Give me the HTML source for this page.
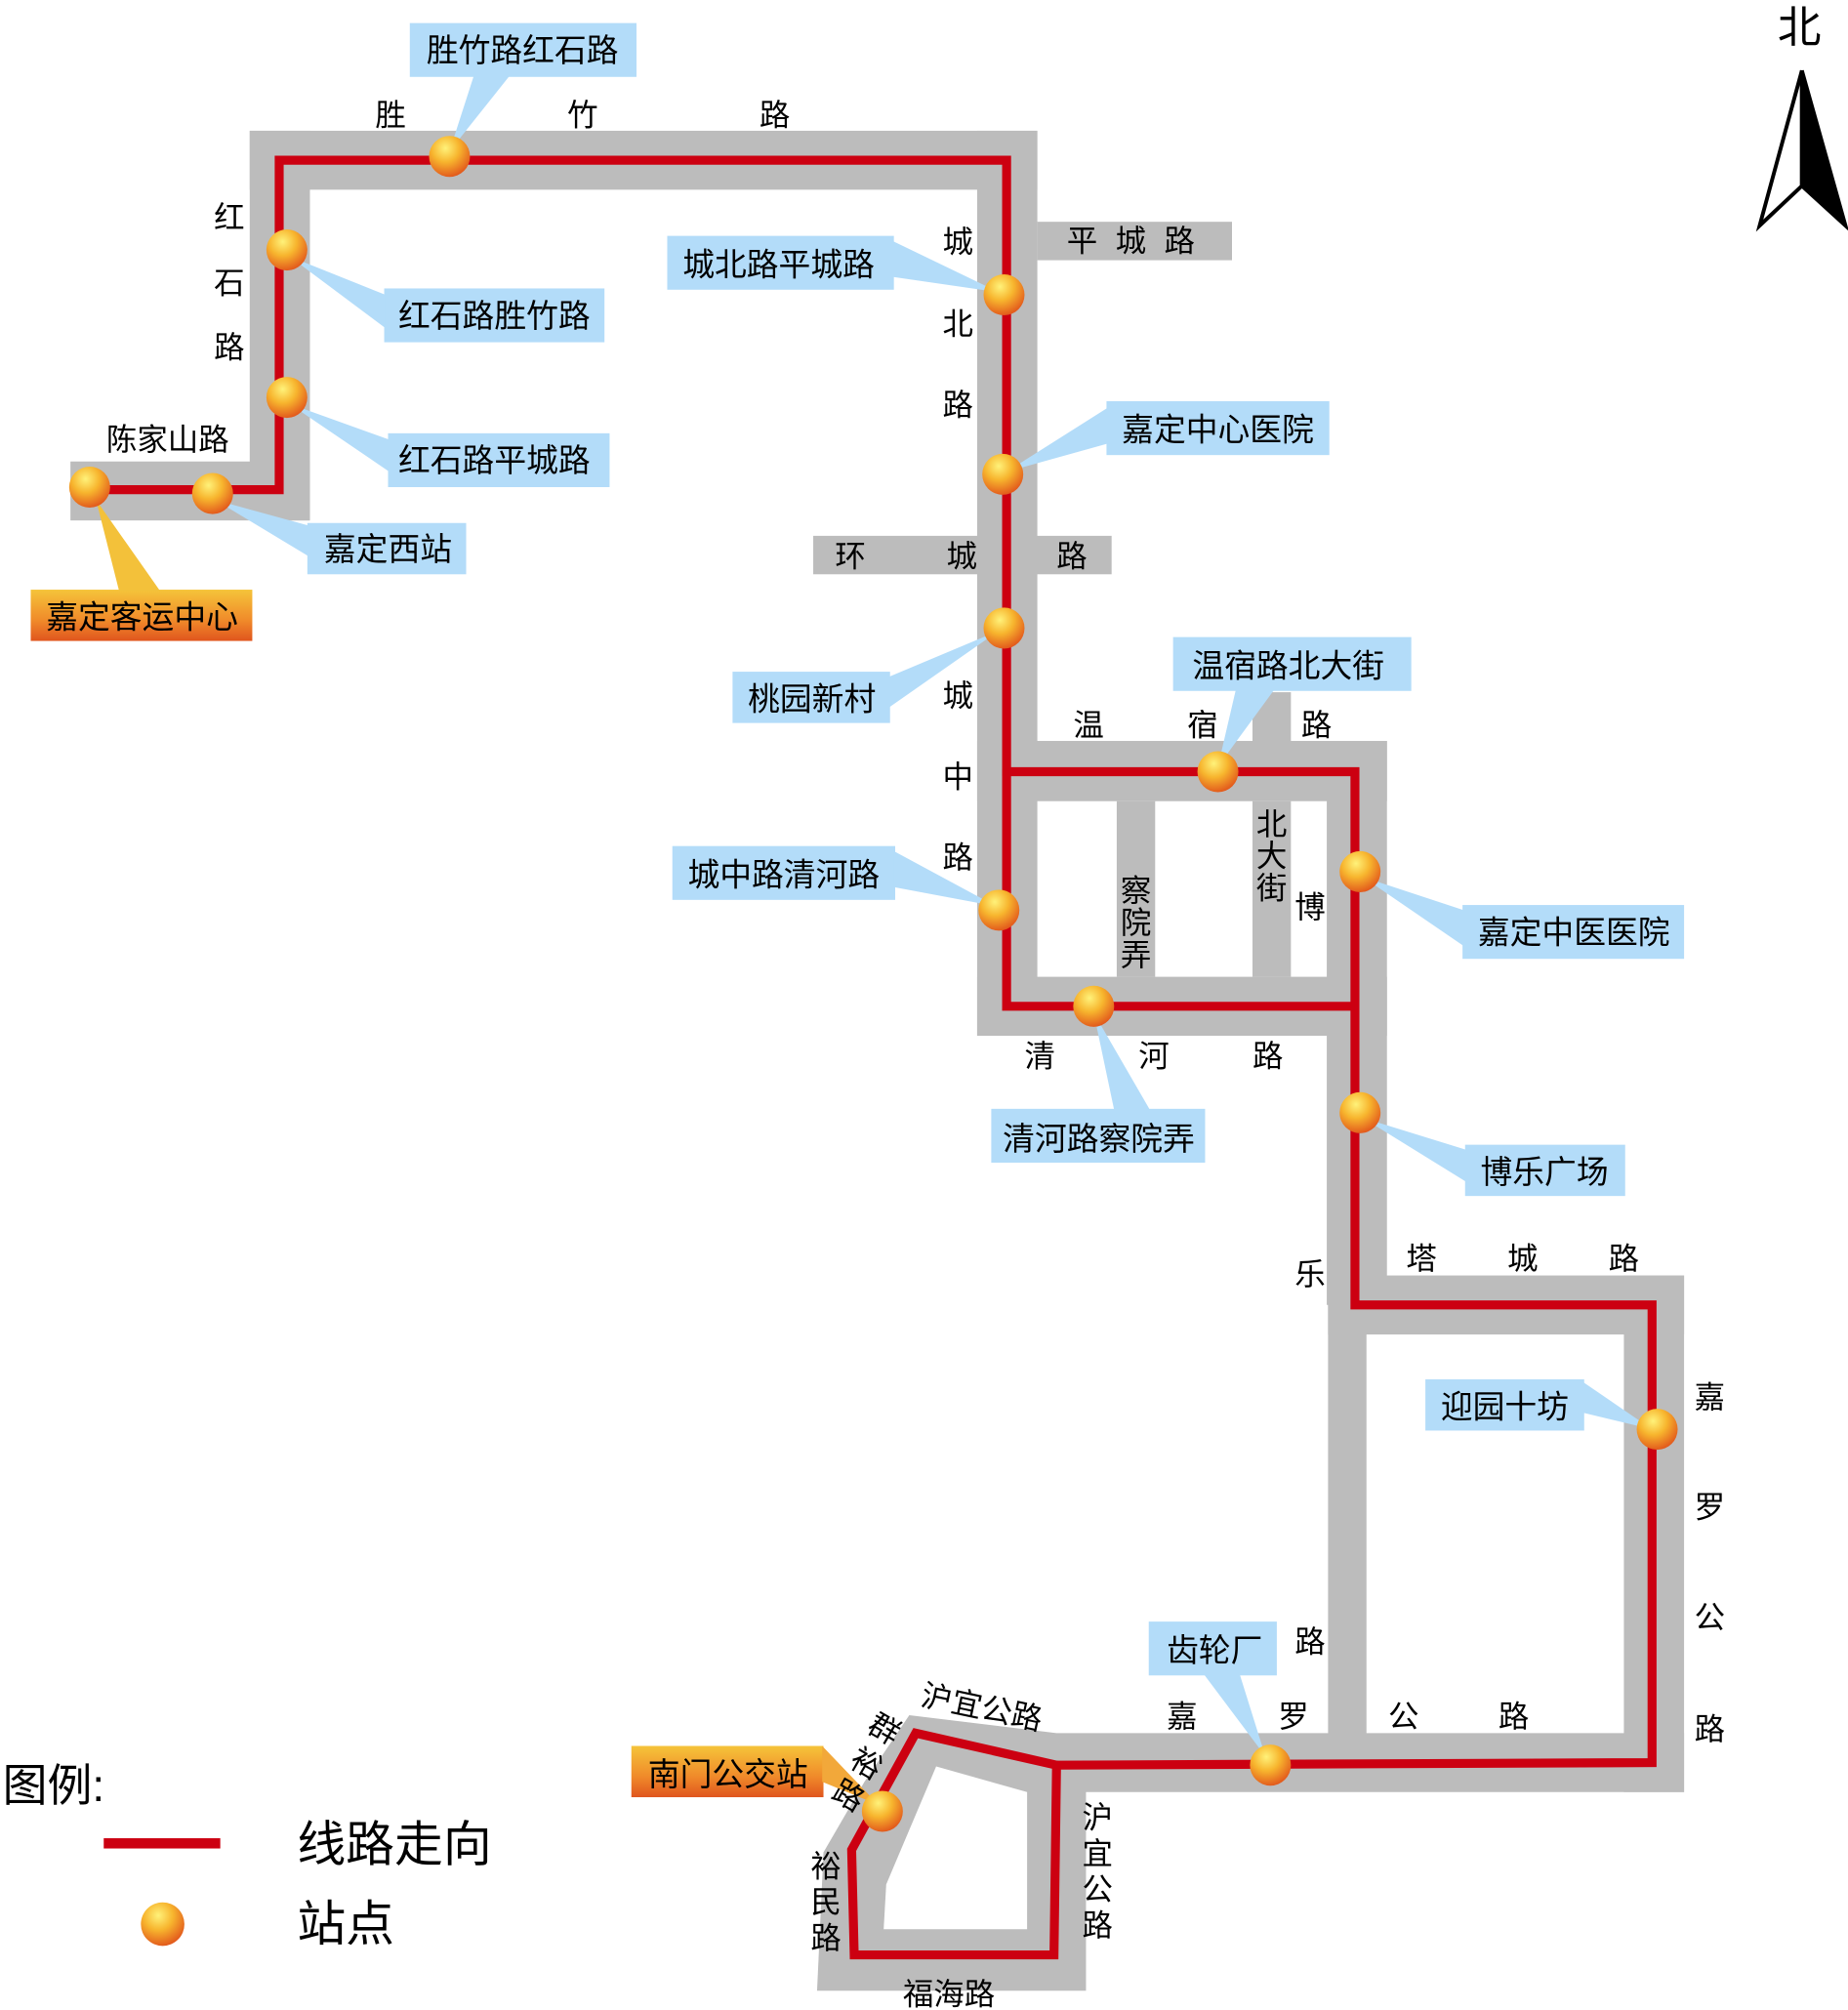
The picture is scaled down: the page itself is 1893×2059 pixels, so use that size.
<!DOCTYPE html>
<html><head><meta charset="utf-8"><style>
html,body{margin:0;padding:0;background:#fff;}
svg{display:block;}
text{font-family:"Liberation Sans","Noto Sans CJK SC",sans-serif;fill:#000;}
</style></head><body>
<svg width="1893" height="2059" viewBox="0 0 1443 1568" preserveAspectRatio="none" xmlns="http://www.w3.org/2000/svg">
<defs>
<radialGradient id="st" cx="0.4" cy="0.3" r="0.75">
<stop offset="0" stop-color="#fff27a"/><stop offset="0.45" stop-color="#f7b52e"/><stop offset="1" stop-color="#e0501a"/>
</radialGradient>
<linearGradient id="og" x1="0" y1="0" x2="0" y2="1">
<stop offset="0" stop-color="#f5c43a"/><stop offset="0.6" stop-color="#f08a2a"/><stop offset="1" stop-color="#e0551e"/>
</linearGradient>
</defs>
<rect width="1443" height="1568" fill="#fff"/>
<g fill="#bcbcbc">
<rect x="55" y="360" width="187" height="46"/>
<rect x="195" y="102" width="47" height="304"/>
<rect x="195" y="102" width="615" height="46"/>
<rect x="763" y="102" width="47" height="706"/>
<rect x="810" y="173" width="152" height="30"/>
<rect x="635" y="418" width="233" height="30"/>
<rect x="763" y="578" width="320" height="47"/>
<rect x="978" y="540" width="30" height="40"/>
<rect x="1036" y="578" width="47" height="440"/>
<rect x="763" y="762" width="320" height="46"/>
<rect x="872" y="625" width="30" height="137"/>
<rect x="978" y="625" width="30" height="137"/>
<rect x="1037" y="995" width="278" height="46"/>
<rect x="1037" y="1018" width="30" height="340"/>
<rect x="1268" y="995" width="47" height="403"/>
<rect x="825" y="1352" width="490" height="46"/>
<polygon points="710,1338 825,1352 848,1370 848,1553 638,1553 643,1445 675,1390"/>
</g>
<polygon points="731,1378 802,1398 802,1505 690,1505 692,1470" fill="#fff"/>
<g fill="none" stroke="#cc0011" stroke-width="7" stroke-linejoin="miter">
<polyline points="55,382 218,382 218,125 786,125 786,602 1058,602 1058,1018 1290,1018 1290,1375 825,1377"/>
<polyline points="786,600 786,785 1058,785"/>
<polygon points="825,1377 715,1352 665,1443 667,1525 823,1525"/>
</g>
<g fill="#b3dcf9">
<rect x="320" y="18" width="177" height="42"/><polygon points="370,59 398,59 351,118"/>
<rect x="300" y="225" width="172" height="42"/><polygon points="301,230 301,256 226,200"/>
<rect x="303" y="338" width="173" height="42"/><polygon points="304,343 304,368 226,315"/>
<rect x="240" y="408" width="124" height="40"/><polygon points="241,410 241,434 168,390"/>
<rect x="521" y="184" width="177" height="42"/><polygon points="697,188 697,216 780,228"/>
<rect x="864" y="313" width="174" height="42"/><polygon points="865,318 865,346 786,368"/>
<rect x="572" y="524" width="123" height="40"/><polygon points="694,528 694,552 780,492"/>
<rect x="916" y="497" width="186" height="42"/><polygon points="965,538 995,538 951,598"/>
<rect x="1142" y="706" width="173" height="42"/><polygon points="1143,710 1143,738 1064,684"/>
<rect x="525" y="660" width="174" height="42"/><polygon points="698,664 698,692 778,707"/>
<rect x="774" y="865" width="167" height="42"/><polygon points="870,866 898,866 854,790"/>
<rect x="1144" y="893" width="125" height="40"/><polygon points="1145,897 1145,922 1064,872"/>
<rect x="1113" y="1076" width="124" height="40"/><polygon points="1236,1078 1236,1102 1290,1115"/>
<rect x="897" y="1265" width="100" height="42"/><polygon points="940,1306 968,1306 988,1370"/>
</g>
<g fill="url(#og)">
<rect x="24" y="460" width="173" height="40"/><polygon points="93,461 125,461 75,390" fill="#f3c13a"/>
<rect x="493" y="1362" width="150" height="40"/><polygon points="642,1362 642,1390 686,1408" fill="#f2a83a"/>
</g>
<g fill="url(#st)">
<circle cx="70" cy="380" r="16"/><circle cx="166" cy="385" r="16"/>
<circle cx="224" cy="195" r="16"/><circle cx="224" cy="310" r="16"/>
<circle cx="351" cy="122" r="16"/><circle cx="784" cy="230" r="16"/>
<circle cx="783" cy="370" r="16"/><circle cx="784" cy="490" r="16"/>
<circle cx="951" cy="602" r="16"/><circle cx="1062" cy="680" r="16"/>
<circle cx="780" cy="710" r="16"/><circle cx="854" cy="785" r="16"/>
<circle cx="1062" cy="868" r="16"/><circle cx="1294" cy="1115" r="16"/>
<circle cx="992" cy="1377" r="16"/><circle cx="689" cy="1413" r="16"/>
<circle cx="127" cy="1501" r="17"/>
</g>
<g font-size="25">
<text x="333" y="48">胜竹路红石路</text>
<text x="311" y="255">红石路胜竹路</text>
<text x="311" y="368">红石路平城路</text>
<text x="253" y="437">嘉定西站</text>
<text x="36" y="490">嘉定客运中心</text>
<text x="533" y="215">城北路平城路</text>
<text x="876" y="344">嘉定中心医院</text>
<text x="584" y="554">桃园新村</text>
<text x="931" y="528">温宿路北大街</text>
<text x="1154" y="736">嘉定中医医院</text>
<text x="537" y="691">城中路清河路</text>
<text x="783" y="897">清河路察院弄</text>
<text x="1156" y="923">博乐广场</text>
<text x="1125" y="1106">迎园十坊</text>
<text x="911" y="1296">齿轮厂</text>
<text x="506" y="1393">南门公交站</text>
</g>
<g font-size="24">
<text x="293" y="98">胜</text><text x="443" y="98">竹</text><text x="593" y="98">路</text>
<text x="167" y="178">红</text><text x="167" y="229">石</text><text x="167" y="279">路</text>
<text x="83" y="351">陈家山路</text>
<text x="736" y="197">城</text><text x="736" y="261">北</text><text x="736" y="324">路</text>
<text x="833" y="196">平</text><text x="871" y="196">城</text><text x="909" y="196">路</text>
<text x="652" y="442">环</text><text x="739" y="442">城</text><text x="825" y="442">路</text>
<text x="736" y="551">城</text><text x="736" y="614">中</text><text x="736" y="677">路</text>
<text x="838" y="574">温</text><text x="927" y="574">宿</text><text x="1016" y="574">路</text>
<text x="875" y="703">察</text><text x="875" y="728">院</text><text x="875" y="753">弄</text>
<text x="981" y="651">北</text><text x="981" y="676">大</text><text x="981" y="701">街</text>
<text x="1011" y="716">博</text>
<text x="800" y="832">清</text><text x="889" y="832">河</text><text x="978" y="832">路</text>
<text x="1011" y="1002">乐</text>
<text x="1098" y="990">塔</text><text x="1177" y="990">城</text><text x="1256" y="990">路</text>
<text x="1323" y="1098">嘉</text><text x="1323" y="1184">罗</text><text x="1323" y="1270">公</text><text x="1323" y="1357">路</text>
<text x="1011" y="1289">路</text>
<text x="911" y="1347">嘉</text><text x="998" y="1347">罗</text><text x="1084" y="1347">公</text><text x="1170" y="1347">路</text>
<text transform="translate(718,1330) rotate(12)">沪宜公路</text>
<text transform="translate(676,1350) rotate(30)">群</text>
<text transform="translate(662,1377) rotate(30)">裕</text>
<text transform="translate(648,1402) rotate(30)">路</text>
<text x="633" y="1464">裕</text><text x="633" y="1492">民</text><text x="633" y="1520">路</text>
<text x="845" y="1426">沪</text><text x="845" y="1454">宜</text><text x="845" y="1482">公</text><text x="845" y="1510">路</text>
<text x="705" y="1564">福海路</text>
</g>
<text x="1388" y="33" font-size="34">北</text>
<polygon points="1407,55 1374,176 1407,145" fill="#fff" stroke="#000" stroke-width="3" stroke-linejoin="miter"/>
<polygon points="1407,55 1441,176 1407,145" fill="#000" stroke="#000" stroke-width="3"/>
<text x="2" y="1405" font-size="35">图例:</text>
<rect x="81" y="1434" width="91" height="8" fill="#cc0011"/>
<text x="232" y="1452" font-size="38">线路走向</text>
<text x="232" y="1514" font-size="38">站点</text>
</svg>
</body></html>
